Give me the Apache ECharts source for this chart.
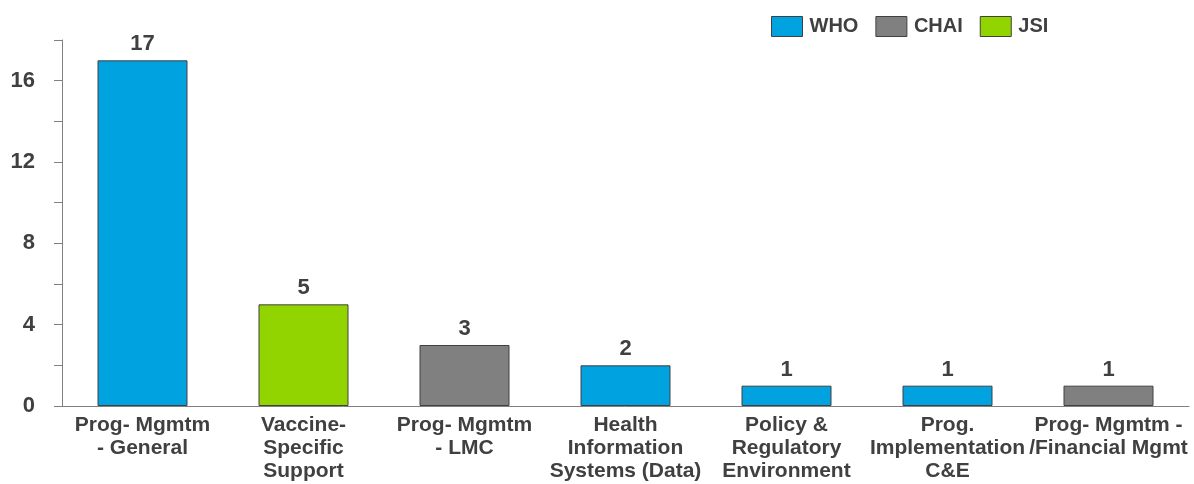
<!DOCTYPE html>
<html>
<head>
<meta charset="utf-8">
<script src="https://cdn.jsdelivr.net/npm/echarts@6/dist/echarts.min.js"></script>
<style>html,body{margin:0;padding:0;background:#fff;}#c{width:1194px;height:484px;}</style>
</head>
<body>
<div id="c"></div>
<script>
const categories = [
  "Prog- Mgmtm\n- General",
  "Vaccine-\nSpecific\nSupport",
  "Prog- Mgmtm\n- LMC",
  "Health\nInformation\nSystems (Data)",
  "Policy &\nRegulatory\nEnvironment",
  "Prog.\nImplementation\nC&E",
  "Prog- Mgmtm -\n/Financial Mgmt"
];
const whoValues  = [17, null, null, 2, 1, 1, null];
const chaiValues = [null, null, 3, null, null, null, 1];
const jsiValues  = [null, 5, null, null, null, null, null];
const seriesNames = ["WHO", "CHAI", "JSI"];
const seriesColors = ["#00A2E0", "#808080", "#92D400"];
const yTicks = [0, 4, 8, 12, 16];

const txt = "#404040";
const font = "'Liberation Sans', Arial, sans-serif";
const chart = echarts.init(document.getElementById('c'), null, {renderer: 'canvas'});
function mk(name, data, color) {
  return {
    name: name, type: 'bar', stack: 'all', data: data, barWidth: 90,
    itemStyle: {color: color, borderColor: '#404040', borderWidth: 1},
    label: {show: true, position: 'top', distance: 5, color: txt, fontSize: 22, fontWeight: 'bold', fontFamily: font},
    emphasis: {disabled: true}
  };
}
chart.setOption({
  animation: false,
  textStyle: {fontFamily: font},
  legend: {
    left: 771, top: 16, padding: 0, itemWidth: 31, itemHeight: 20, itemGap: 17, icon: 'rect',
    data: seriesNames.map((n, i) => ({name: n, itemStyle: {color: seriesColors[i], borderColor: '#404040', borderWidth: 1}})),
    textStyle: {color: txt, fontSize: 20, fontWeight: 'bold', fontFamily: font, padding: [0, 0, 0, 2]}
  },
  grid: {left: 62, right: 5, top: 40, bottom: 78, containLabel: false},
  xAxis: {
    type: 'category', data: categories,
    axisLine: {lineStyle: {color: '#808080', width: 1}},
    axisTick: {show: false},
    axisLabel: {interval: 0, color: txt, fontSize: 21, fontWeight: 'bold', fontFamily: font, lineHeight: 23, margin: 8}
  },
  yAxis: {
    type: 'value', min: 0, max: 18, interval: 2,
    axisLine: {show: true, lineStyle: {color: '#808080', width: 1}},
    axisTick: {show: true, length: 8, lineStyle: {color: '#808080'}},
    splitLine: {show: false},
    axisLabel: {color: txt, fontSize: 22, fontWeight: 'bold', fontFamily: font, margin: 27,
      formatter: v => yTicks.indexOf(v) >= 0 ? String(v) : ''}
  },
  series: [
    mk(seriesNames[0], whoValues, seriesColors[0]),
    mk(seriesNames[1], chaiValues, seriesColors[1]),
    mk(seriesNames[2], jsiValues, seriesColors[2])
  ]
});
</script>
</body>
</html>
